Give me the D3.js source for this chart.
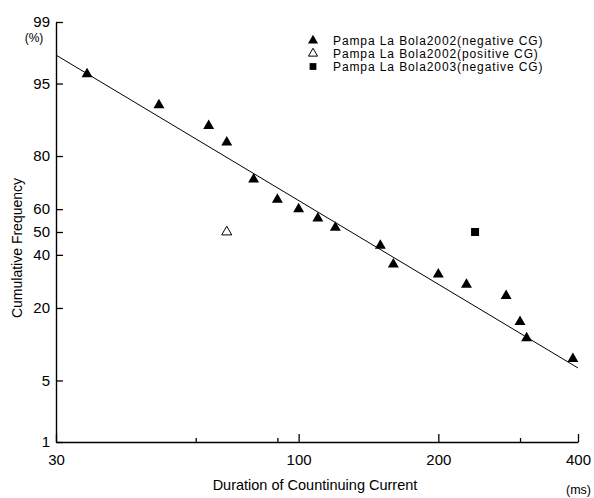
<!DOCTYPE html>
<html><head><meta charset="utf-8">
<script src="https://cdn.jsdelivr.net/npm/d3@7"></script>
<style>
body{margin:0;background:#fff;}
text{font-family:"Liberation Sans",Arial,sans-serif;fill:#000;}
</style></head>
<body><svg id="c" width="594" height="498"></svg>
<script>
// ---- data ----
const negDur2002 = [35, 50, 64, 70, 80, 90, 100, 110, 120, 150, 160, 200, 230, 280, 300, 310, 390];
const negFreq2002 = [96, 92, 88, 84, 72, 64, 60, 56, 52, 44, 36, 32, 28, 24, 16, 12, 8];
const posDur2002 = [70];
const posFreq2002 = [50];
const negDur2003 = [240];
const negFreq2003 = [50];
const fitDur = [30, 400];
const fitFreq = [97.5, 6.6];
const xMajorTicks = [30, 100, 200, 400];
const xMinorTicks = [60, 90, 300];
const yTicks = [1, 5, 20, 40, 50, 60, 80, 95, 99];
const legendLabels = ["Pampa La Bola2002(negative CG)", "Pampa La Bola2002(positive CG)", "Pampa La Bola2003(negative CG)"];

// inverse normal CDF (Acklam)
function probit(p){
  const a=[-3.969683028665376e+01,2.209460984245205e+02,-2.759285104469687e+02,1.383577518672690e+02,-3.066479806614716e+01,2.506628277459239e+00];
  const b=[-5.447609879822406e+01,1.615858368580409e+02,-1.556989798598866e+02,6.680131188771972e+01,-1.328068155288572e+01];
  const c=[-7.784894002430293e-03,-3.223964580411365e-01,-2.400758277161838e+00,-2.549732539343734e+00,4.374664141464968e+00,2.938163982698783e+00];
  const d=[7.784695709041462e-03,3.224671290700398e-01,2.445134137142996e+00,3.754408661907416e+00];
  const pl=0.02425;
  let q,r;
  if(p<pl){q=Math.sqrt(-2*Math.log(p));return (((((c[0]*q+c[1])*q+c[2])*q+c[3])*q+c[4])*q+c[5])/((((d[0]*q+d[1])*q+d[2])*q+d[3])*q+1);}
  if(p>1-pl){q=Math.sqrt(-2*Math.log(1-p));return -(((((c[0]*q+c[1])*q+c[2])*q+c[3])*q+c[4])*q+c[5])/((((d[0]*q+d[1])*q+d[2])*q+d[3])*q+1);}
  q=p-0.5;r=q*q;
  return (((((a[0]*r+a[1])*r+a[2])*r+a[3])*r+a[4])*r+a[5])*q/(((((b[0]*r+b[1])*r+b[2])*r+b[3])*r+b[4])*r+1);
}
const z = v => probit(v/100);

const svg = d3.select("#c");
const X0=56, X1=578, Y0=442, Y1=22;
const x = d3.scaleLog().domain([30,400]).range([X0,X1]);
const yz = d3.scaleLinear().domain([z(1), z(99)]).range([Y0,Y1]);
const y = v => yz(z(v));

// axes
const gx = svg.append("g").attr("transform",`translate(0,${Y0})`)
  .call(d3.axisBottom(x).tickValues(xMajorTicks).tickFormat(d3.format("d")).tickSizeInner(-8).tickSizeOuter(0).tickPadding(12));
const gxm = svg.append("g").attr("transform",`translate(0,${Y0})`)
  .call(d3.axisBottom(x).tickValues(xMinorTicks).tickFormat("").tickSizeInner(-4).tickSizeOuter(0));
gxm.select(".domain").remove();
const gy = svg.append("g").attr("transform",`translate(${X0},0)`)
  .call(d3.axisLeft(yz).tickValues(yTicks.map(z)).tickFormat((d,i)=>yTicks[i]).tickSizeInner(-7).tickSizeOuter(0).tickPadding(6));
[gx,gxm,gy].forEach(g=>{
  g.selectAll(".domain").attr("stroke","#000").attr("stroke-width",1.4);
  g.selectAll(".tick line").attr("stroke","#000").attr("stroke-width",1.3);
  g.selectAll(".tick text").attr("font-family","Liberation Sans, Arial, sans-serif").attr("font-size",15).attr("fill","#000");
});

// fit line
svg.append("path")
  .datum(fitDur.map((d,i)=>[d,fitFreq[i]]))
  .attr("d", d3.line().x(d=>x(d[0])).y(d=>y(d[1])))
  .attr("fill","none").attr("stroke","#000").attr("stroke-width",1);

const tri = d3.symbol().type(d3.symbolTriangle).size(52);
const sq = d3.symbol().type(d3.symbolSquare).size(64);

svg.append("g").selectAll("path").data(negDur2002.map((d,i)=>[d,negFreq2002[i]])).join("path")
  .attr("d",tri).attr("transform",d=>`translate(${x(d[0])},${y(d[1])})`).attr("fill","#000");
svg.append("g").selectAll("path").data(posDur2002.map((d,i)=>[d,posFreq2002[i]])).join("path")
  .attr("d",d3.symbol().type(d3.symbolTriangle).size(44)).attr("transform",d=>`translate(${x(d[0])},${y(d[1])})`)
  .attr("fill","#fff").attr("stroke","#000").attr("stroke-width",1);
svg.append("g").selectAll("path").data(negDur2003.map((d,i)=>[d,negFreq2003[i]])).join("path")
  .attr("d",sq).attr("transform",d=>`translate(${x(d[0])},${y(d[1])})`).attr("fill","#000");

// legend
const lg = svg.append("g");
const legSym = [
  {s:d3.symbol().type(d3.symbolTriangle).size(44)(), fill:"#000", stroke:"none"},
  {s:d3.symbol().type(d3.symbolTriangle).size(36)(), fill:"#fff", stroke:"#000"},
  {s:d3.symbol().type(d3.symbolSquare).size(46)(), fill:"#000", stroke:"none"}
];
legendLabels.forEach((t,i)=>{
  const yy = 40.5 + i*13;
  lg.append("path").attr("d",legSym[i].s).attr("transform",`translate(313,${yy})`)
    .attr("fill",legSym[i].fill).attr("stroke",legSym[i].stroke).attr("stroke-width",1);
  lg.append("text").attr("x",333).attr("y",yy+4.5).attr("font-size",12).attr("letter-spacing",0.9).text(t);
});

// labels
svg.append("text").attr("x",34).attr("y",42).attr("text-anchor","middle").attr("font-size",12).text("(%)");
svg.append("text").attr("transform","translate(22,248) rotate(-90)").attr("text-anchor","middle").attr("font-size",14).text("Cumulative Frequency");
svg.append("text").attr("x",315).attr("y",490).attr("text-anchor","middle").attr("font-size",14.5).text("Duration of Countinuing Current");
svg.append("text").attr("x",566).attr("y",494).attr("font-size",12.5).text("(ms)");
</script></body></html>
